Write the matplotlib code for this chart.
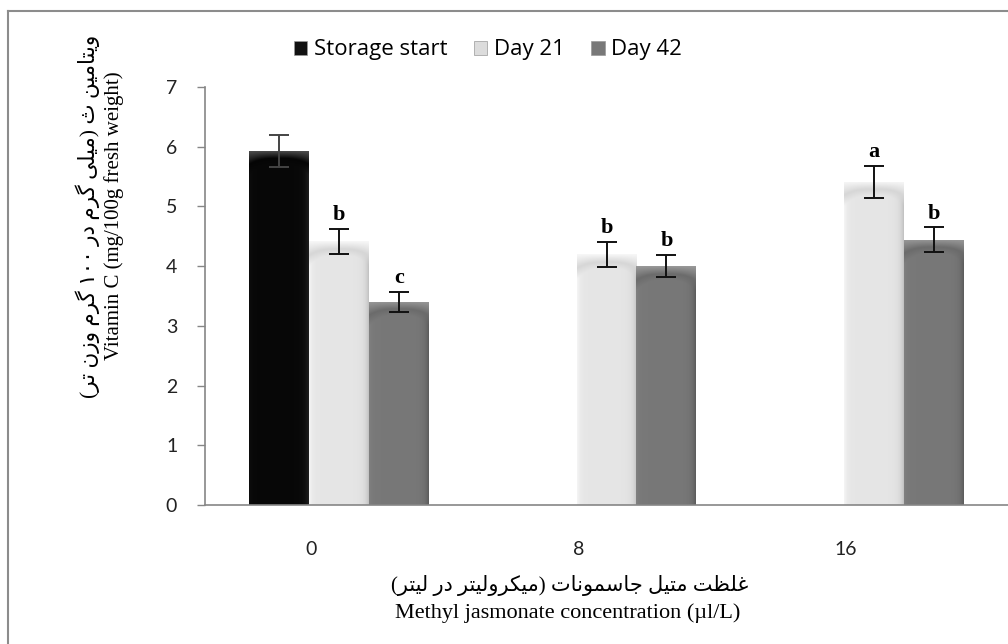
import re
import numpy as np
import matplotlib
matplotlib.use("Agg")
import matplotlib.pyplot as plt
from matplotlib.patches import Patch
from matplotlib.lines import Line2D

# vitamin C content per methyl jasmonate dose
categories = ["0", "8", "16"]
series = ["Storage start", "Day 21", "Day 42"]
values = {
    "Storage start": [5.93, np.nan, np.nan],
    "Day 21": [4.42, 4.20, 5.41],
    "Day 42": [3.40, 4.00, 4.44],
}
errors = {
    "Storage start": [0.27, np.nan, np.nan],
    "Day 21": [0.21, 0.21, 0.27],
    "Day 42": [0.17, 0.19, 0.21],
}
letters = {
    "Storage start": ["", "", ""],
    "Day 21": ["b", "b", "a"],
    "Day 42": ["c", "b", "b"],
}

ylabel_fa = "ویتامین ث (میلی گرم در ۱۰۰ گرم وزن تر)"
ylabel_en = "Vitamin C (mg/100g fresh weight)"
xlabel_fa = "غلظت متیل جاسمونات (میکرولیتر در لیتر)"
xlabel_en = "Methyl jasmonate concentration (µl/L)"

# isolated, final, initial, medial presentation forms
FORMS = {
    "ا": (0xFE8D, 0xFE8E),
    "د": (0xFEA9, 0xFEAA),
    "ر": (0xFEAD, 0xFEAE),
    "ز": (0xFEAF, 0xFEB0),
    "و": (0xFEED, 0xFEEE),
    "ت": (0xFE95, 0xFE96, 0xFE97, 0xFE98),
    "ث": (0xFE99, 0xFE9A, 0xFE9B, 0xFE9C),
    "ج": (0xFE9D, 0xFE9E, 0xFE9F, 0xFEA0),
    "س": (0xFEB1, 0xFEB2, 0xFEB3, 0xFEB4),
    "ظ": (0xFEC5, 0xFEC6, 0xFEC7, 0xFEC8),
    "غ": (0xFECD, 0xFECE, 0xFECF, 0xFED0),
    "ک": (0xFB8E, 0xFB8F, 0xFB90, 0xFB91),
    "گ": (0xFB92, 0xFB93, 0xFB94, 0xFB95),
    "ل": (0xFEDD, 0xFEDE, 0xFEDF, 0xFEE0),
    "م": (0xFEE1, 0xFEE2, 0xFEE3, 0xFEE4),
    "ن": (0xFEE5, 0xFEE6, 0xFEE7, 0xFEE8),
    "ی": (0xFBFC, 0xFBFD, 0xFBFE, 0xFBFF),
}


def persian(text):
    # join letters and put them in visual (right-to-left) order
    text = text.replace("ي", "ی").replace("ك", "ک")
    out = []
    for i, ch in enumerate(text):
        f = FORMS.get(ch)
        if f is None:
            out.append(ch)
            continue
        prev = FORMS.get(text[i - 1]) if i > 0 else None
        nxt = text[i + 1] if i + 1 < len(text) else ""
        j_prev = prev is not None and len(prev) == 4
        j_next = len(f) == 4 and nxt in FORMS
        if j_prev and j_next:
            out.append(chr(f[3]))
        elif j_prev:
            out.append(chr(f[1]))
        elif j_next:
            out.append(chr(f[2]))
        else:
            out.append(chr(f[0]))
    s = "".join(out)[::-1].translate(str.maketrans("()", ")("))
    return re.sub(r"[0-9\u06F0-\u06F9]+", lambda m: m.group(0)[::-1], s)


# base grey, left edge, right edge, bevel top, bevel shadow for each series
shades = {
    "Storage start": (0.03, 0.05, 0.12, 0.32, 0.02),
    "Day 21": (0.90, 0.96, 0.76, 0.97, 0.84),
    "Day 42": (0.47, 0.50, 0.36, 0.60, 0.42),
}
legend_colors = {"Storage start": "#111111", "Day 21": "#dcdcdc", "Day 42": "#787878"}


def shade_bar(ax, rect, shade):
    base, left, right, top, shadow = shade
    h = rect.get_height()
    if not np.isfinite(h) or h <= 0:
        return
    x0, w = rect.get_x(), rect.get_width()
    ny, nx = 400, 80
    xs = np.linspace(0, 1, nx)
    prof = (base + (left - base) * np.exp(-xs / 0.05)
            + (right - base) * np.exp(-(1 - xs) / 0.06))
    img = np.tile(prof, (ny, 1))
    depth = (h - np.linspace(h, 0, ny))[:, None]
    # bevel band is deeper at the edges than in the middle
    band = 0.13 + 0.10 * (np.abs(xs - 0.5) * 2)[None, :] ** 3
    t = depth / band
    bevel = np.where(t < 1, top * (1 - t) + shadow * t, 0)
    fade = np.clip((t - 1) / 0.8, 0, 1)
    after = shadow * (1 - fade) + img * fade
    img = np.where(t < 1, bevel, after)
    rgb = np.repeat(np.clip(img, 0, 1)[:, :, None], 3, axis=2)
    im = ax.imshow(rgb, extent=(x0, x0 + w, 0, h), aspect="auto",
                   origin="upper", zorder=2, interpolation="bilinear")
    im.set_clip_path(rect)


fig = plt.figure(figsize=(10.08, 6.44), dpi=100)
ax = fig.add_axes([205 / 1008, 1 - 505 / 644, 1 - 205 / 1008, (505 - 87) / 644])

x = np.arange(len(categories))
width = 0.224
offsets = [-width, 0, width]

for k, name in enumerate(series):
    pos = x + offsets[k]
    bars = ax.bar(pos, values[name], width, color=legend_colors[name],
                  edgecolor="none", zorder=1)
    for rect in bars:
        shade_bar(ax, rect, shades[name])
    ecol = "#444444" if name == "Storage start" else "#111111"
    ax.errorbar(pos, values[name], yerr=errors[name], fmt="none", ecolor=ecol,
                elinewidth=1.4, capsize=7, capthick=1.4, zorder=4)
    for xi, v, e, lab in zip(pos, values[name], errors[name], letters[name]):
        if lab:
            ax.text(xi, v + e + 0.06, lab, ha="center", va="bottom",
                    fontsize=16, fontweight="bold", family="Liberation Serif",
                    zorder=5)

ax.set_xlim(-0.5, 2.5)
ax.set_ylim(0, 7)
ax.set_yticks(range(0, 8))
ax.set_xticks(x - 0.105)
ax.set_xticklabels(categories)
ax.tick_params(axis="x", length=0, pad=26, labelsize=14, labelcolor="#222222")
ax.tick_params(axis="y", length=6, width=1, color="#868686", pad=14,
               labelsize=14, labelcolor="#222222")
for lab in ax.get_xticklabels() + ax.get_yticklabels():
    lab.set_family("Lato")
for side in ("top", "right"):
    ax.spines[side].set_visible(False)
for side in ("left", "bottom"):
    ax.spines[side].set_color("#868686")
    ax.spines[side].set_linewidth(1.2)

handles = [Patch(facecolor=legend_colors[n], edgecolor="#999999", linewidth=0.5)
           for n in series]
fig.legend(handles, series, loc="center", bbox_to_anchor=(488 / 1008, 1 - 50 / 644),
           ncol=3, frameon=False, handlelength=0.6, handleheight=0.6,
           handletextpad=0.3, columnspacing=1.2,
           prop={"family": "Open Sans", "size": 16})

# axis titles, Persian above English
fig.text(88 / 1008, 1 - 216 / 644, persian(ylabel_fa), rotation=90,
         ha="center", va="center", fontsize=15.5,
         family=["Liberation Serif", "DejaVu Sans"])
fig.text(114 / 1008, 1 - 216 / 644, ylabel_en, rotation=90,
         ha="center", va="center", fontsize=15, family="Liberation Serif")
fig.text(570 / 1008, 1 - 586 / 644, persian(xlabel_fa), ha="center",
         va="center", fontsize=15, family=["Liberation Serif", "DejaVu Sans"])
fig.text(568 / 1008, 1 - 613 / 644, xlabel_en, ha="center", va="center",
         fontsize=16, family="Liberation Serif")

# chart area border
fig.add_artist(Line2D([8 / 1008, 1.0], [1 - 11 / 644] * 2, color="#8c8c8c",
                      linewidth=1.5, transform=fig.transFigure))
fig.add_artist(Line2D([8 / 1008] * 2, [0.0, 1 - 11 / 644], color="#8c8c8c",
                      linewidth=1.5, transform=fig.transFigure))

fig.savefig("out.png", dpi=100)
